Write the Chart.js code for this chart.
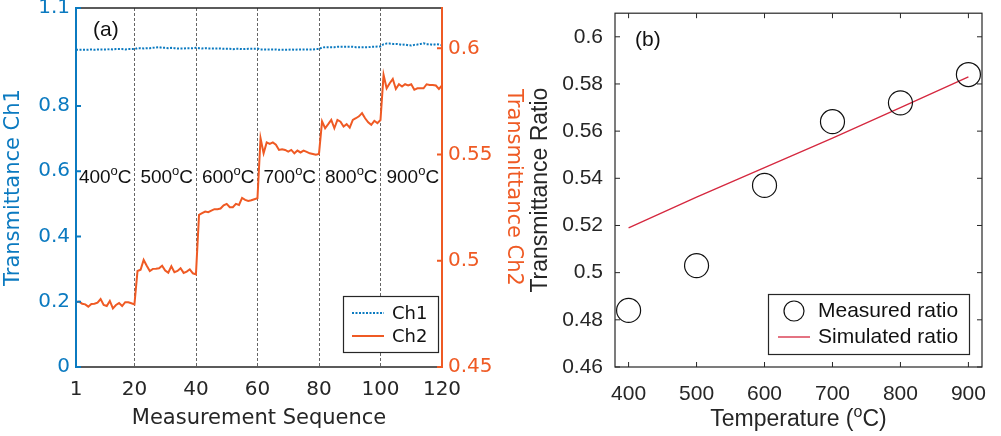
<!DOCTYPE html>
<html>
<head>
<meta charset="utf-8">
<script src="https://cdn.jsdelivr.net/npm/chart.js@4.4.0/dist/chart.umd.min.js"></script>
<style>
  html, body { margin: 0; padding: 0; background: #fff; }
  #wrap { position: relative; width: 1001px; height: 436px; overflow: hidden; }
  #chartA { position: absolute; left: 0; top: 0; }
  #chartB { position: absolute; left: 500px; top: 0; }
</style>
</head>
<body>
<div id="wrap">
  <canvas id="chartA" width="530" height="436"></canvas>
  <canvas id="chartB" width="501" height="436"></canvas>
</div>
<script>
// ---- panel (a) data ----
const seq = [];
for (let i = 1; i <= 120; i++) seq.push(i);

const ch1 = [
  0.972, 0.972, 0.972, 0.972, 0.972, 0.973, 0.972, 0.973, 0.973, 0.973,
  0.973, 0.974, 0.973, 0.974, 0.974, 0.974, 0.973, 0.974, 0.974, 0.974,
  0.977, 0.977, 0.976, 0.977, 0.977, 0.978, 0.979, 0.980, 0.978, 0.978,
  0.977, 0.978, 0.977, 0.976, 0.976, 0.976, 0.977, 0.977, 0.977, 0.978,
  0.977, 0.976, 0.977, 0.976, 0.976, 0.976, 0.976, 0.976, 0.975, 0.975,
  0.975, 0.974, 0.975, 0.975, 0.974, 0.974, 0.975, 0.975, 0.975, 0.976,
  0.973, 0.973, 0.973, 0.973, 0.973, 0.973, 0.972, 0.972, 0.972, 0.972,
  0.973, 0.972, 0.973, 0.973, 0.973, 0.973, 0.973, 0.973, 0.974, 0.974,
  0.979, 0.980, 0.980, 0.980, 0.980, 0.981, 0.981, 0.981, 0.981, 0.981,
  0.981, 0.980, 0.980, 0.980, 0.980, 0.980, 0.981, 0.981, 0.982, 0.982,
  0.989, 0.991, 0.991, 0.990, 0.990, 0.989, 0.987, 0.988, 0.986, 0.985,
  0.987, 0.988, 0.990, 0.992, 0.989, 0.989, 0.987, 0.989, 0.988, 0.986
];

const ch2 = [
  0.4805, 0.4808, 0.4798, 0.4795, 0.4784, 0.4797, 0.4798, 0.4803, 0.4820, 0.4792,
  0.4787, 0.4811, 0.4776, 0.4792, 0.4801, 0.4787, 0.4805, 0.4805, 0.4800, 0.4795,
  0.4952, 0.4958, 0.5004, 0.4977, 0.4952, 0.4962, 0.4963, 0.4965, 0.4977, 0.4954,
  0.4944, 0.4974, 0.4946, 0.4952, 0.4965, 0.4943, 0.4949, 0.4960, 0.4941, 0.4936,
  0.5216, 0.5224, 0.5232, 0.5229, 0.5236, 0.5243, 0.5243, 0.5246, 0.5261, 0.5268,
  0.5252, 0.5252, 0.5268, 0.5263, 0.5296, 0.5287, 0.5282, 0.5285, 0.5290, 0.5294,
  0.5577, 0.5506, 0.5557, 0.5550, 0.5557, 0.5546, 0.5522, 0.5525, 0.5522, 0.5514,
  0.5522, 0.5506, 0.5519, 0.5510, 0.5519, 0.5513, 0.5506, 0.5503, 0.5499, 0.5503,
  0.5656, 0.5624, 0.5643, 0.5663, 0.5624, 0.5663, 0.5655, 0.5632, 0.5643, 0.5627,
  0.5663, 0.5671, 0.5680, 0.5695, 0.5671, 0.5652, 0.5640, 0.5659, 0.5648, 0.5663,
  0.5875, 0.5812, 0.5836, 0.5856, 0.5809, 0.5831, 0.5820, 0.5831, 0.5825, 0.5831,
  0.5805, 0.5812, 0.5812, 0.5812, 0.5831, 0.5828, 0.5828, 0.5825, 0.5809, 0.5825
];

const seqTicks = [1, 20, 40, 60, 80, 100, 120];
const ch1Ticks = [0, 0.2, 0.4, 0.6, 0.8, 1.1];
const ch2Ticks = [0.45, 0.5, 0.55, 0.6];
const stepBounds = [20, 40, 60, 80, 100];
const stepLabels = ['400', '500', '600', '700', '800', '900'];
const stepLabelPos = [10.5, 30.5, 50.5, 70.5, 90.5, 110.5];

// ---- panel (b) data ----
const temps = [400, 500, 600, 700, 800, 900];
const measuredRatio = [0.484, 0.503, 0.537, 0.564, 0.572, 0.584];
const simulatedRatio = [0.519, 0.532, 0.5445, 0.557, 0.570, 0.583];
const tempTicks = [400, 500, 600, 700, 800, 900];
const ratioTicks = [0.46, 0.48, 0.5, 0.52, 0.54, 0.56, 0.58, 0.6];

const blue = '#0b7ac0';
const orange = '#ef5a24';
const ink = '#262626';
const simRed = '#d5283f';

function fmt(v) { return String(+v.toFixed(2)); }

// text with a superscript piece in the middle, centred on cx
function supText(ctx, parts, cx, cy, size, family, color) {
  const big = size + 'px "' + family + '"';
  const small = Math.round(size * 0.68) + 'px "' + family + '"';
  ctx.font = big;
  const w1 = ctx.measureText(parts[0]).width;
  const w3 = ctx.measureText(parts[2]).width;
  ctx.font = small;
  const w2 = ctx.measureText(parts[1]).width;
  let x = cx - (w1 + w2 + w3) / 2;
  const base = cy + size * 0.36;
  ctx.fillStyle = color;
  ctx.textAlign = 'left';
  ctx.textBaseline = 'alphabetic';
  ctx.font = big; ctx.fillText(parts[0], x, base); x += w1;
  ctx.font = small; ctx.fillText(parts[1], x, base - size * 0.42); x += w2;
  ctx.font = big; ctx.fillText(parts[2], x, base);
}

const panelA = {
  id: 'panelA',
  beforeDatasetsDraw(chart) {
    const {ctx, chartArea: ca, scales: {x}} = chart;
    ctx.save();
    ctx.strokeStyle = '#666';
    ctx.lineWidth = 1;
    ctx.setLineDash([3, 2]);
    stepBounds.forEach(v => {
      const px = Math.round(x.getPixelForValue(v)) + 0.5;
      ctx.beginPath();
      ctx.moveTo(px, ca.top);
      ctx.lineTo(px, ca.bottom);
      ctx.stroke();
    });
    ctx.restore();
  },
  afterDatasetsDraw(chart) {
    const {ctx, chartArea: ca, scales: {x, y, y2}} = chart;
    ctx.save();
    // frame
    ctx.strokeStyle = ink;
    ctx.lineWidth = 1.5;
    ctx.beginPath();
    ctx.moveTo(ca.left, ca.top); ctx.lineTo(ca.right, ca.top);
    ctx.moveTo(ca.left, ca.bottom); ctx.lineTo(ca.right, ca.bottom);
    ctx.stroke();
    ctx.lineWidth = 2;
    ctx.strokeStyle = blue;
    ctx.beginPath();
    ctx.moveTo(ca.left, ca.top - 1); ctx.lineTo(ca.left, ca.bottom + 1);
    ch1Ticks.forEach(v => {
      const py = y.getPixelForValue(v);
      ctx.moveTo(ca.left, py); ctx.lineTo(ca.left + 5, py);
    });
    ctx.stroke();
    ctx.strokeStyle = orange;
    ctx.beginPath();
    ctx.moveTo(ca.right, ca.top - 1); ctx.lineTo(ca.right, ca.bottom + 1);
    ch2Ticks.forEach(v => {
      const py = y2.getPixelForValue(v);
      ctx.moveTo(ca.right, py); ctx.lineTo(ca.right - 5, py);
    });
    ctx.stroke();

    // temperature labels
    stepLabels.forEach((t, i) => {
      supText(ctx, [t, 'o', 'C'], x.getPixelForValue(stepLabelPos[i]), y.getPixelForValue(0.585), 19, 'Liberation Sans', '#111');
    });

    // (a)
    ctx.fillStyle = '#111';
    ctx.font = '21px "Liberation Sans"';
    ctx.textAlign = 'left';
    ctx.textBaseline = 'middle';
    ctx.fillText('(a)', ca.left + 17, ca.top + 22);

    // legend
    const bw = 95, bh = 56;
    const bx = ca.right - 99, by = ca.bottom - 71;
    ctx.fillStyle = '#fff';
    ctx.fillRect(bx, by, bw, bh);
    ctx.strokeStyle = ink;
    ctx.lineWidth = 1.2;
    ctx.strokeRect(bx + 0.5, by + 0.5, bw, bh);
    const ds = chart.data.datasets;
    [0, 1].forEach(k => {
      const ry = by + 17 + k * 23;
      ctx.strokeStyle = ds[k].borderColor;
      ctx.lineWidth = ds[k].borderWidth;
      ctx.setLineDash(ds[k].borderDash || []);
      ctx.beginPath();
      ctx.moveTo(bx + 9, ry); ctx.lineTo(bx + 41, ry);
      ctx.stroke();
      ctx.setLineDash([]);
      ctx.fillStyle = '#111';
      ctx.font = '18px "DejaVu Sans"';
      ctx.fillText(ds[k].label, bx + 49, ry + 1);
    });
    ctx.restore();
  }
};

const panelB = {
  id: 'panelB',
  afterDatasetsDraw(chart) {
    const {ctx, chartArea: ca, scales: {x, y}} = chart;
    ctx.save();
    ctx.strokeStyle = ink;
    ctx.lineWidth = 1.2;
    ctx.strokeRect(ca.left, ca.top, ca.right - ca.left, ca.bottom - ca.top);
    ctx.lineWidth = 1;
    ctx.beginPath();
    tempTicks.forEach(v => {
      const px = x.getPixelForValue(v);
      ctx.moveTo(px, ca.bottom); ctx.lineTo(px, ca.bottom - 5);
      ctx.moveTo(px, ca.top); ctx.lineTo(px, ca.top + 5);
    });
    ratioTicks.forEach(v => {
      const py = y.getPixelForValue(v);
      ctx.moveTo(ca.left, py); ctx.lineTo(ca.left + 5, py);
      ctx.moveTo(ca.right, py); ctx.lineTo(ca.right - 5, py);
    });
    ctx.stroke();

    // (b)
    ctx.fillStyle = '#111';
    ctx.font = '21px "Liberation Sans"';
    ctx.textAlign = 'left';
    ctx.textBaseline = 'middle';
    ctx.fillText('(b)', ca.left + 20, ca.top + 27);

    // x title with superscript
    supText(ctx, ['Temperature (', 'o', 'C)'], (ca.left + ca.right) / 2, 418, 23, 'Liberation Sans', ink);

    // legend
    const bw = 201, bh = 60;
    const bx = ca.right - 214, by = ca.bottom - 73;
    ctx.fillStyle = '#fff';
    ctx.fillRect(bx, by, bw, bh);
    ctx.strokeStyle = ink;
    ctx.lineWidth = 1.2;
    ctx.strokeRect(bx + 0.5, by + 0.5, bw, bh);
    const ds = chart.data.datasets;
    ctx.strokeStyle = ds[0].borderColor;
    ctx.lineWidth = ds[0].borderWidth;
    ctx.beginPath();
    ctx.arc(bx + 26, by + 17, 10, 0, Math.PI * 2);
    ctx.stroke();
    ctx.strokeStyle = ds[1].borderColor;
    ctx.lineWidth = ds[1].borderWidth;
    ctx.beginPath();
    ctx.moveTo(bx + 10, by + 43); ctx.lineTo(bx + 42, by + 43);
    ctx.stroke();
    ctx.fillStyle = '#111';
    ctx.font = '21px "Liberation Sans"';
    ctx.textAlign = 'left';
    ctx.textBaseline = 'middle';
    ctx.fillText(ds[0].label, bx + 50, by + 17);
    ctx.fillText(ds[1].label, bx + 50, by + 43);
    ctx.restore();
  }
};

const chartA = new Chart(document.getElementById('chartA'), {
  type: 'line',
  data: {
    datasets: [{
      label: 'Ch1',
      data: seq.map((s, i) => ({x: s, y: ch1[i]})),
      yAxisID: 'y',
      borderColor: blue,
      borderWidth: 2,
      borderDash: [2, 1.5],
      pointRadius: 0,
      tension: 0,
      fill: false
    }, {
      label: 'Ch2',
      data: seq.map((s, i) => ({x: s, y: ch2[i]})),
      yAxisID: 'y2',
      borderColor: orange,
      borderWidth: 2,
      pointRadius: 0,
      tension: 0,
      fill: false
    }]
  },
  options: {
    responsive: false,
    animation: false,
    layout: {padding: {top: 8, left: 0, right: 0, bottom: 0}},
    plugins: {legend: {display: false}, tooltip: {enabled: false}},
    scales: {
      x: {
        type: 'linear', min: 1, max: 120,
        afterBuildTicks: s => { s.ticks = seqTicks.map(v => ({value: v})); },
        afterFit: s => { s.height = 69; s.paddingLeft = 0; s.paddingRight = 0; },
        grid: {display: false, drawTicks: false},
        border: {display: false},
        ticks: {padding: 11, color: ink, maxRotation: 0, autoSkip: false, font: {family: '"DejaVu Sans"', size: 20}},
        title: {display: true, text: 'Measurement Sequence', color: ink, font: {family: '"DejaVu Sans"', size: 21}, padding: {top: 0, bottom: 5}}
      },
      y: {
        type: 'linear', position: 'left', min: 0, max: 1.1,
        afterBuildTicks: s => { s.ticks = ch1Ticks.map(v => ({value: v})); },
        afterFit: s => { s.width = 76; s.paddingTop = 0; s.paddingBottom = 0; },
        grid: {display: false, drawTicks: false},
        border: {display: false},
        ticks: {padding: 6, color: blue, callback: v => fmt(v), font: {family: '"DejaVu Sans"', size: 20}},
        title: {display: true, text: 'Transmittance Ch1', color: blue, font: {family: '"DejaVu Sans"', size: 21}, padding: {top: 1, bottom: 0}}
      },
      y2: {
        type: 'linear', position: 'right', min: 0.45, max: 0.619,
        afterBuildTicks: s => { s.ticks = ch2Ticks.map(v => ({value: v})); },
        afterFit: s => { s.width = 88; s.paddingTop = 0; s.paddingBottom = 0; },
        grid: {display: false, drawTicks: false},
        border: {display: false},
        ticks: {padding: 6, color: orange, callback: v => fmt(v), font: {family: '"DejaVu Sans"', size: 20}},
        title: {display: true, text: 'Transmittance Ch2', color: orange, font: {family: '"DejaVu Sans"', size: 21}, padding: {top: 4, bottom: 0}}
      }
    }
  },
  plugins: [panelA]
});

const chartB = new Chart(document.getElementById('chartB'), {
  type: 'line',
  data: {
    datasets: [{
      label: 'Measured ratio',
      data: temps.map((t, i) => ({x: t, y: measuredRatio[i]})),
      showLine: false,
      borderColor: '#111',
      backgroundColor: 'rgba(0,0,0,0)',
      borderWidth: 1.2,
      pointRadius: 12,
      pointStyle: 'circle',
      pointBorderWidth: 1.2,
      pointBackgroundColor: 'rgba(0,0,0,0)'
    }, {
      label: 'Simulated ratio',
      data: temps.map((t, i) => ({x: t, y: simulatedRatio[i]})),
      borderColor: simRed,
      borderWidth: 1.3,
      pointRadius: 0,
      tension: 0,
      fill: false
    }]
  },
  options: {
    responsive: false,
    animation: false,
    layout: {padding: {top: 6, left: 0, right: 19, bottom: 0}},
    plugins: {legend: {display: false}, tooltip: {enabled: false}},
    scales: {
      x: {
        type: 'linear', min: 380, max: 920,
        afterBuildTicks: s => { s.ticks = tempTicks.map(v => ({value: v})); },
        afterFit: s => { s.height = 69; s.paddingLeft = 0; s.paddingRight = 0; },
        grid: {display: false, drawTicks: false},
        border: {display: false},
        ticks: {padding: 15, color: ink, maxRotation: 0, autoSkip: false, font: {family: '"Liberation Sans"', size: 21}},
        title: {display: false}
      },
      y: {
        type: 'linear', min: 0.46, max: 0.61,
        afterBuildTicks: s => { s.ticks = ratioTicks.map(v => ({value: v})); },
        afterFit: s => { s.width = 115; s.paddingTop = 0; s.paddingBottom = 0; },
        grid: {display: false, drawTicks: false},
        border: {display: false},
        ticks: {padding: 12, color: ink, callback: v => fmt(v), font: {family: '"Liberation Sans"', size: 21}},
        title: {display: true, text: 'Transmittance Ratio', color: ink, font: {family: '"Liberation Sans"', size: 23}, padding: {top: 27, bottom: 0}}
      }
    }
  },
  plugins: [panelB]
});
</script>
</body>
</html>
